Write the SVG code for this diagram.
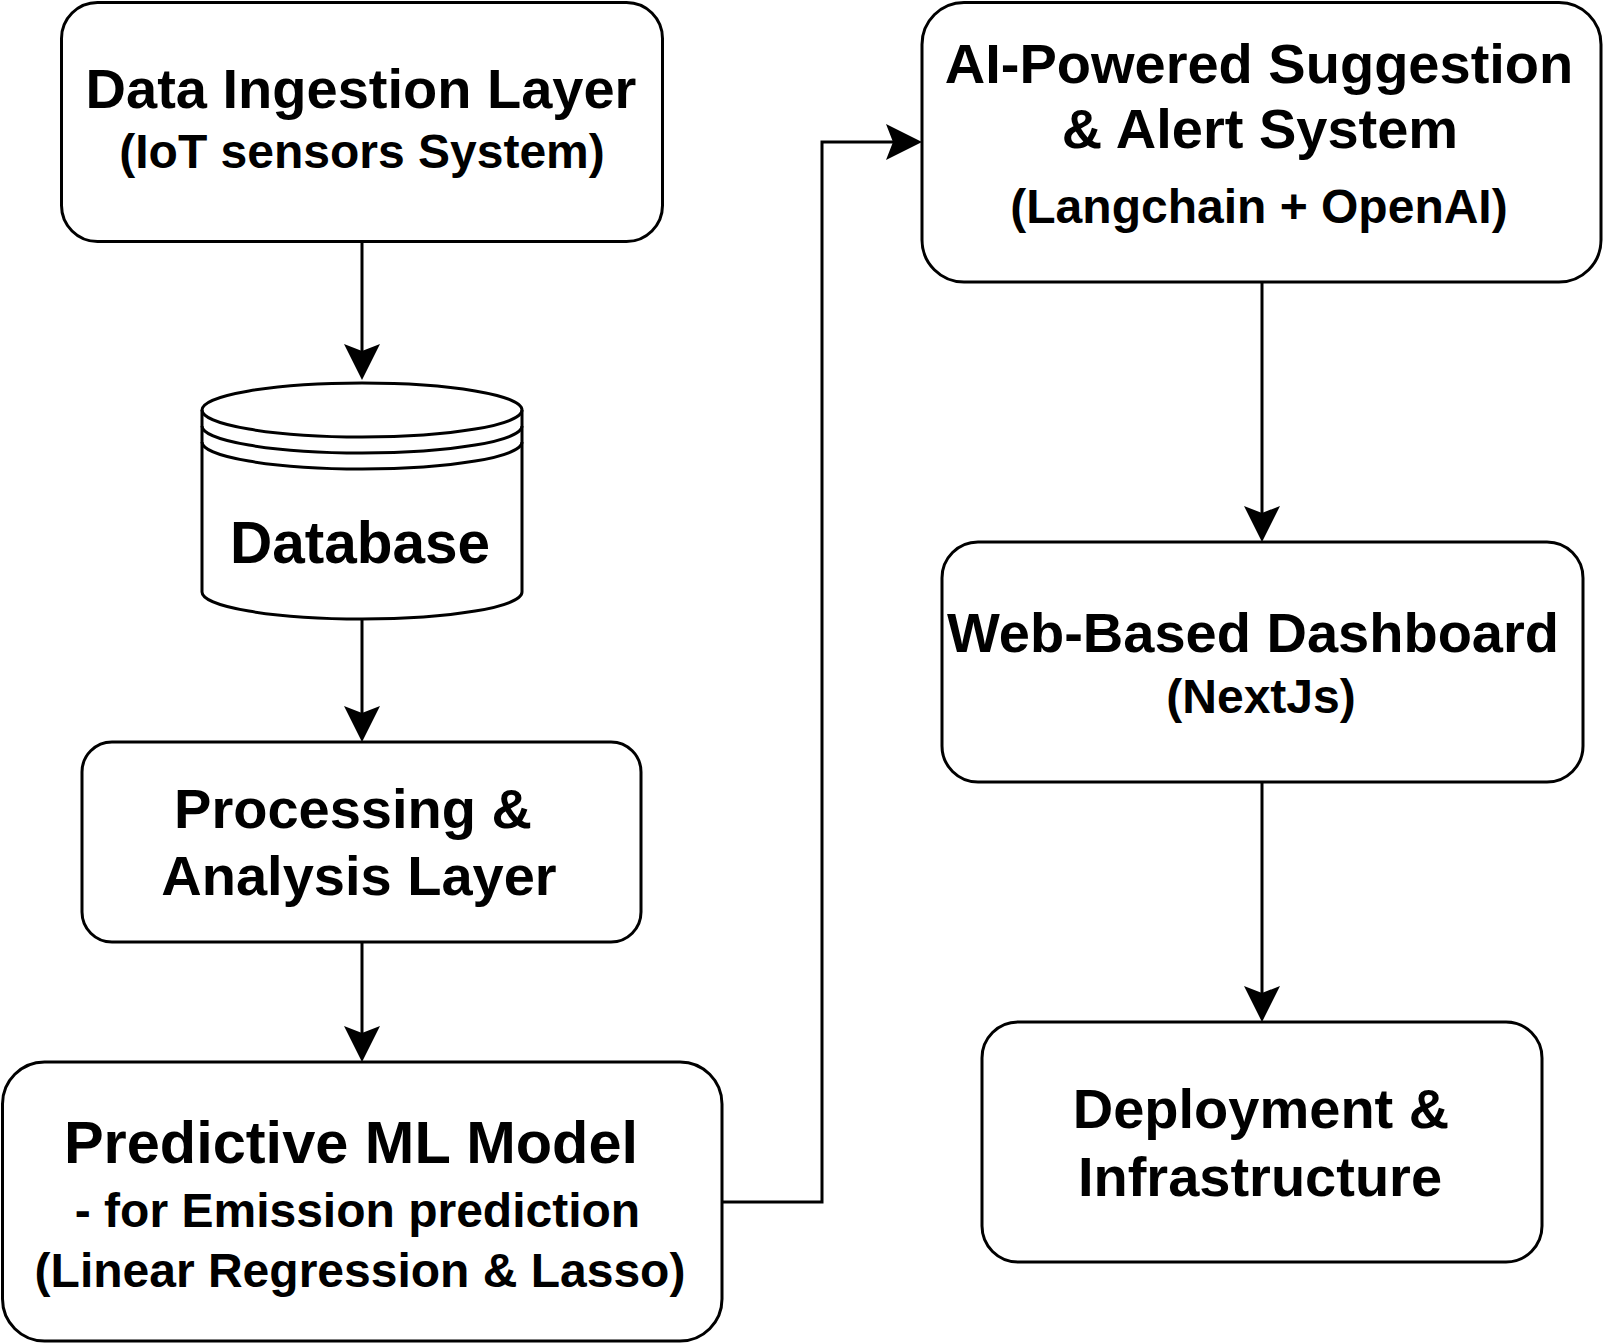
<svg xmlns="http://www.w3.org/2000/svg" width="1604" height="1344" viewBox="0 0 1604 1344">
<style>
.box{fill:#fff;stroke:#000;stroke-width:3}
.edge{fill:none;stroke:#000;stroke-width:3}
text{font-family:"Liberation Sans",Arial,Helvetica,sans-serif;font-weight:bold;fill:#000;text-anchor:middle}
.t{font-size:56px}
.s{font-size:48px}
</style>
<defs>
<marker id="arr" markerUnits="userSpaceOnUse" viewBox="-30 -19 38 38" refX="0" refY="0" markerWidth="38" markerHeight="38" orient="auto">
<path d="M7,0 L-29,-18 L-22,0 L-29,18 Z" fill="#000"/>
</marker>
</defs>
<rect width="1604" height="1344" fill="#fff"/>
<g id="connectors">
<path class="edge" d="M362,242 V373" marker-end="url(#arr)"/>
<path class="edge" d="M362,620 V735" marker-end="url(#arr)"/>
<path class="edge" d="M362,942 V1055" marker-end="url(#arr)"/>
<path class="edge" d="M722,1202 H822 V142 H915" marker-end="url(#arr)"/>
<path class="edge" d="M1262,282 V535" marker-end="url(#arr)"/>
<path class="edge" d="M1262,783 V1015" marker-end="url(#arr)"/>
</g>
<g id="data-ingestion">
<rect class="box" x="61.5" y="2.5" width="601" height="239" rx="36"/>
<text class="t" x="361" y="108">Data Ingestion Layer</text>
<text class="s" x="362" y="168">(IoT sensors System)</text>
</g>
<g id="database">
<path class="box" d="M202,410 A160,27 0 0 1 522,410 V592 A160,27 0 0 1 202,592 Z"/>
<path class="edge" d="M202,410 A160,27 0 0 0 522,410"/>
<path class="edge" d="M202,426 A160,27 0 0 0 522,426"/>
<path class="edge" d="M202,442 A160,27 0 0 0 522,442"/>
<text x="360" y="563" style="font-size:58.5px">Database</text>
</g>
<g id="processing">
<rect class="box" x="82" y="742" width="559" height="200" rx="30"/>
<text class="t" x="353" y="828">Processing &amp;</text>
<text class="t" x="359" y="895">Analysis Layer</text>
</g>
<g id="predictive">
<rect class="box" x="2.5" y="1062" width="719.5" height="279" rx="42"/>
<text x="351" y="1163" style="font-size:59.5px">Predictive ML Model</text>
<text class="s" x="357.5" y="1227">- for Emission prediction</text>
<text class="s" x="360" y="1287">(Linear Regression &amp; Lasso)</text>
</g>
<g id="ai-suggestion">
<rect class="box" x="922" y="2.5" width="679" height="279.5" rx="42"/>
<text class="t" x="1259" y="83">AI-Powered Suggestion</text>
<text class="t" x="1260" y="148">&amp; Alert System</text>
<text class="s" x="1259" y="223">(Langchain + OpenAI)</text>
</g>
<g id="dashboard">
<rect class="box" x="942" y="542" width="641" height="240" rx="36"/>
<text class="t" x="1253" y="652">Web-Based Dashboard</text>
<text class="s" x="1261" y="713">(NextJs)</text>
</g>
<g id="deployment">
<rect class="box" x="982" y="1022" width="560" height="240" rx="36"/>
<text class="t" x="1261" y="1128">Deployment &amp;</text>
<text class="t" x="1260" y="1196">Infrastructure</text>
</g>
</svg>
